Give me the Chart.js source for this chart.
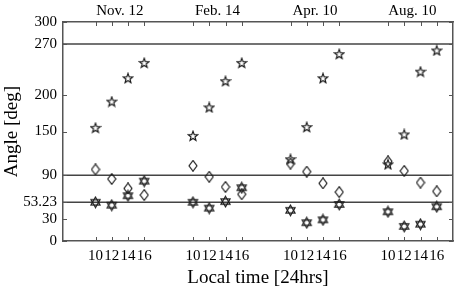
<!DOCTYPE html>
<html><head><meta charset="utf-8">
<script src="https://cdn.jsdelivr.net/npm/chart.js@4"></script>
<style>html,body{margin:0;padding:0;background:#fff}</style>
</head><body>
<canvas id="c" width="459" height="293" style="width:459px;height:293px;display:block"></canvas>
<script>
// ---- data ----
const dates = ['Nov. 12', 'Feb. 14', 'Apr. 10', 'Aug. 10'];
const hours = [10, 12, 14, 16];
const pentaValues   = [[155, 191, 223, 244], [144, 183, 219, 244], [112, 156, 223, 256], [105, 146, 232, 261]];
const hexaValues    = [[53, 49, 62, 82], [53, 45, 54, 73], [42, 25, 29, 50], [40, 20, 23, 47]];
const diamondValues = [[98, 85, 72, 63], [103, 88, 74, 64], [106, 95, 79, 67], [109, 96, 80, 68]];
const yTicks = [0, 30, 53.23, 90, 150, 200, 270, 300];
const refLines = [270, 90, 53.23];
const panelSpan = 12;

const FONT = 'Liberation Serif';
const INK = '#1a1a1a';

function toPts(vals) {
  return vals.flatMap((row, p) => row.map((v, i) => ({ x: p * panelSpan + hours[i], y: v })));
}
const xTickVals = dates.flatMap((d, p) => hours.map(h => p * panelSpan + h));
const topTickVals = dates.map((d, p) => p * panelSpan + (hours[0] + hours[hours.length - 1]) / 2);
const xMin = hours[0] - 4, xMax = (dates.length - 1) * panelSpan + hours[hours.length - 1] + 2;

// ---- marker images ----
function mk(w, h, draw) {
  const c = document.createElement('canvas'); c.width = w; c.height = h;
  const g = c.getContext('2d'); g.strokeStyle = INK; g.lineWidth = 1.15; g.lineJoin = 'miter';
  draw(g); return c;
}
const pentaImg = mk(12, 12, g => {
  const cx = 6, cy = 6.3, R = 5.0, r = 2.1;
  g.beginPath();
  for (let k = 0; k < 10; k++) {
    const a = -Math.PI / 2 + k * Math.PI / 5, rr = k % 2 ? r : R;
    const px = cx + rr * Math.cos(a), py = cy + rr * Math.sin(a);
    k ? g.lineTo(px, py) : g.moveTo(px, py);
  }
  g.closePath(); g.stroke();
});
const hexaImg = mk(13, 13, g => {
  const cx = 6.5, cy = 6.5, R = 5.3;
  [-Math.PI / 2, Math.PI / 2].forEach(a0 => {
    g.beginPath();
    for (let k = 0; k < 3; k++) {
      const a = a0 + k * 2 * Math.PI / 3;
      const px = cx + R * Math.cos(a), py = cy + R * Math.sin(a);
      k ? g.lineTo(px, py) : g.moveTo(px, py);
    }
    g.closePath(); g.stroke();
  });
});
const diamondImg = mk(10, 12, g => {
  g.beginPath(); g.moveTo(5, 0.7); g.lineTo(9, 6); g.lineTo(5, 11.3); g.lineTo(1, 6); g.closePath(); g.stroke();
});

const tickPlugin = {
  id: 'inTicks',
  afterDraw(chart) {
    const { ctx, chartArea: a, scales } = chart;
    ctx.save(); ctx.strokeStyle = '#555'; ctx.lineWidth = 1;
    const L = (x1, y1, x2, y2) => { ctx.beginPath(); ctx.moveTo(x1, y1); ctx.lineTo(x2, y2); ctx.stroke(); };
    scales.x.ticks.forEach(t => {
      const px = Math.round(scales.x.getPixelForValue(t.value)) + 0.5;
      L(px, a.bottom, px, a.bottom - 4); L(px, a.top, px, a.top + 4);
    });
    scales.y.ticks.forEach(t => {
      const py = Math.round(scales.y.getPixelForValue(t.value)) + 0.5;
      L(a.left, py, a.left + 4, py); L(a.right, py, a.right - 4, py);
    });
    ctx.restore();
  }
};

const refDatasets = refLines.map(v => ({
  type: 'line', data: [{ x: xMin, y: v }, { x: xMax, y: v }],
  borderColor: '#444', borderWidth: 1.5, pointRadius: 0, showLine: true, order: 5
}));

const font15 = { family: FONT, size: 15 };
new Chart(document.getElementById('c'), {
  type: 'scatter',
  data: {
    datasets: [
      { data: toPts(pentaValues), pointStyle: pentaImg, pointRadius: 5, order: 1 },
      { data: toPts(hexaValues), pointStyle: hexaImg, pointRadius: 5, order: 1 },
      { data: toPts(diamondValues), pointStyle: diamondImg, pointRadius: 5, order: 1 },
      ...refDatasets
    ]
  },
  options: {
    responsive: false, animation: false, devicePixelRatio: 1,
    layout: { padding: 0 },
    plugins: { legend: { display: false }, tooltip: { enabled: false } },
    scales: {
      x: {
        type: 'linear', position: 'bottom', min: xMin, max: xMax,
        afterBuildTicks: s => { s.ticks = xTickVals.map(v => ({ value: v })); },
        ticks: { autoSkip: false, maxRotation: 0, minRotation: 0, padding: 6, font: font15, color: '#000',
          callback: (v, i) => String(hours[i % hours.length]) },
        grid: { drawOnChartArea: false, drawTicks: false },
        border: { display: true, color: '#555', width: 1.5 },
        title: { display: true, text: 'Local time [24hrs]', font: { family: FONT, size: 19 }, color: '#000', padding: { top: 0, bottom: 4 } },
        afterFit: s => { s.height = 52; }
      },
      x2: {
        type: 'linear', position: 'top', min: xMin, max: xMax,
        afterBuildTicks: s => { s.ticks = topTickVals.map(v => ({ value: v })); },
        ticks: { autoSkip: false, maxRotation: 0, minRotation: 0, padding: 2, font: font15, color: '#000',
          callback: (v, i) => dates[i] },
        grid: { drawOnChartArea: false, drawTicks: false },
        border: { display: true, color: '#555', width: 1.5 },
        afterFit: s => { s.height = 22; }
      },
      y: {
        type: 'linear', position: 'left', min: 0, max: 300,
        afterBuildTicks: s => { s.ticks = yTicks.map(v => ({ value: v })); },
        ticks: { autoSkip: false, padding: 6, font: font15, color: '#000', callback: v => String(v) },
        grid: { drawOnChartArea: false, drawTicks: false },
        border: { display: true, color: '#555', width: 1.5 },
        title: { display: true, text: 'Angle [deg]', font: { family: FONT, size: 19 }, color: '#000', padding: { top: 1, bottom: 0 } },
        afterFit: s => { s.width = 63; }
      },
      y2: {
        type: 'linear', position: 'right', min: 0, max: 300,
        afterBuildTicks: s => { s.ticks = yTicks.map(v => ({ value: v })); },
        ticks: { display: false },
        grid: { drawOnChartArea: false, drawTicks: false },
        border: { display: true, color: '#555', width: 1.5 },
        afterFit: s => { s.width = 3; }
      }
    }
  },
  plugins: [tickPlugin]
});
</script>
</body></html>
